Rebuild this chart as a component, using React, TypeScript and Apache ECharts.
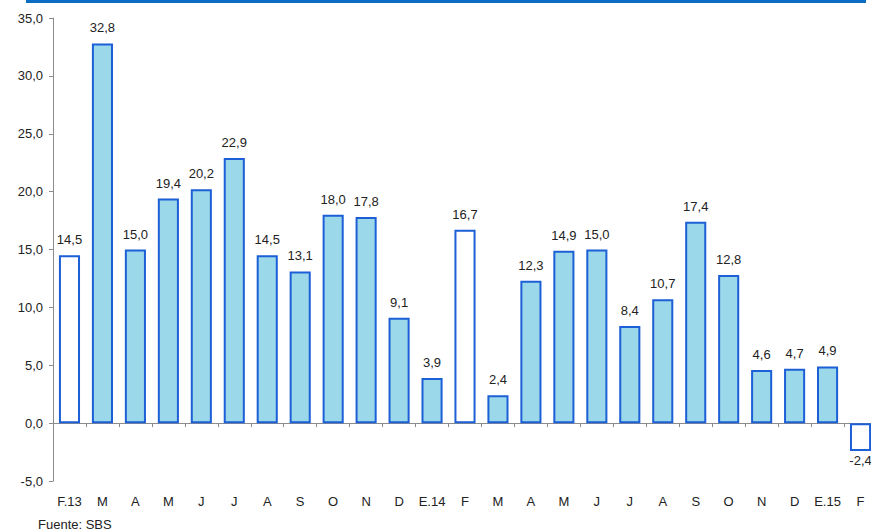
import React, { useEffect, useRef } from "react";
import * as echarts from "echarts";

const categories = ["F.13", "M", "A", "M", "J", "J", "A", "S", "O", "N", "D", "E.14", "F", "M", "A", "M", "J", "J", "A", "S", "O", "N", "D", "E.15", "F"];
const values = [14.5, 32.8, 15.0, 19.4, 20.2, 22.9, 14.5, 13.1, 18.0, 17.8, 9.1, 3.9, 16.7, 2.4, 12.3, 14.9, 15.0, 8.4, 10.7, 17.4, 12.8, 4.6, 4.7, 4.9, -2.4];
const hollowIdx = [0, 12, 24];
const yTicks = { min: -5, max: 35, interval: 5 };
const source = "Fuente: SBS";

const FONT = "Liberation Sans, Arial, sans-serif";
const fmt = (v: number) => v.toFixed(1).replace(".", ",");

export default function App() {
  const ref = useRef<HTMLDivElement>(null);
  useEffect(() => {
    if (!ref.current) return;
    const chart = echarts.init(ref.current, null, { renderer: "svg" });
    const data = values.map((v, i) => ({
      value: v,
      itemStyle: { color: hollowIdx.includes(i) ? "#ffffff" : "#9bd8ea" },
      label: { position: v < 0 ? "bottom" : "top", distance: v < 0 ? 3 : 9 },
    }));
    chart.setOption({
      animation: false,
      backgroundColor: "#ffffff",
      grid: { left: 53, top: 18, width: 824, height: 463, containLabel: false },
      xAxis: [
        {
          type: "category",
          data: categories,
          boundaryGap: true,
          axisLine: { onZero: true, lineStyle: { color: "#8c8c8c", width: 1 } },
          axisTick: { show: true, length: 4, inside: false, lineStyle: { color: "#8c8c8c" } },
          axisLabel: { show: false },
          splitLine: { show: false },
        },
        {
          type: "category",
          data: categories,
          position: "bottom",
          boundaryGap: true,
          axisLine: { show: false, onZero: false },
          axisTick: { show: false },
          axisLabel: { show: true, margin: 14, color: "#222", fontSize: 13, fontFamily: FONT, interval: 0 },
          splitLine: { show: false },
        },
      ],
      yAxis: {
        type: "value",
        min: yTicks.min,
        max: yTicks.max,
        interval: yTicks.interval,
        axisLine: { show: true, lineStyle: { color: "#8c8c8c", width: 1 } },
        axisTick: { show: true, length: 4, lineStyle: { color: "#8c8c8c" } },
        axisLabel: { margin: 10, color: "#222", fontSize: 13, fontFamily: FONT, formatter: (v: number) => fmt(v) },
        splitLine: { show: false },
      },
      series: [
        {
          type: "bar",
          xAxisIndex: 0,
          data,
          barWidth: "64%",
          itemStyle: { borderColor: "#1c5fd6", borderWidth: 2 },
          label: {
            show: true,
            color: "#222",
            fontSize: 13,
            fontFamily: FONT,
            formatter: (p: any) => fmt(p.value),
          },
        },
      ],
      graphic: [
        { type: "rect", shape: { x: 26, y: 0, width: 840, height: 3 }, style: { fill: "#0a6cc2" } },
        { type: "text", left: 38, top: 518, style: { text: source, fill: "#222", fontSize: 13, fontFamily: FONT } },
      ],
    });
    return () => chart.dispose();
  }, []);
  return (
    <div style={{ position: "absolute", left: 0, top: 0, width: 871, height: 532, overflow: "hidden" }}>
      <div ref={ref} style={{ width: 890, height: 532 }} />
    </div>
  );
}
